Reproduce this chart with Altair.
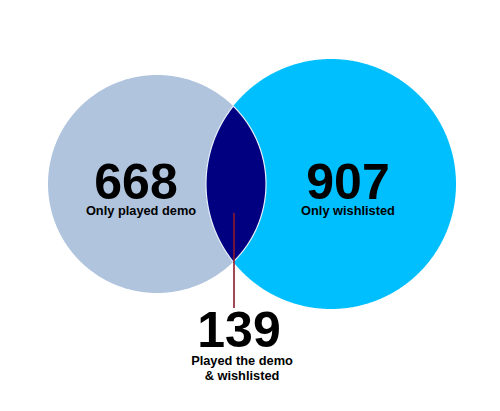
import numpy as np
import pandas as pd
import altair as alt

# ---- data ----
labels = ["Only played demo", "Only wishlisted", "Played the demo\n& wishlisted"]
counts = [668, 907, 139]

# ---- layout (image pixel coordinates) ----
W, H, M = 484, 395, 8
c1 = (157.0, 184.0, 109.0)   # left circle cx, cy, r
c2 = (331.0, 184.0, 125.0)   # right circle cx, cy, r
num_pos = [(136, 199), (348, 199), (239, 347)]
lab_pos = [(141, 215), (348, 215), (242, 364.5)]
leader = (234, 213, 308)

xs = alt.Scale(domain=[M, M + W], nice=False, zero=False)
ys = alt.Scale(domain=[M, M + H], nice=False, zero=False, reverse=True)


def circle_df(cx, cy, r, n=400):
    t = np.linspace(-np.pi / 2, np.pi / 2, n)
    return pd.DataFrame({"y": cy + r * np.sin(t),
                         "x": cx - r * np.cos(t),
                         "x2": cx + r * np.cos(t)})


def lens_df(a, b, n=400):
    (x1, y1, r1), (x2, y2, r2) = a, b
    d = x2 - x1
    xi = (d * d - r2 * r2 + r1 * r1) / (2 * d)
    hh = np.sqrt(r1 * r1 - xi * xi)
    t = np.linspace(-np.pi / 2, np.pi / 2, n)
    yy = y1 + hh * np.sin(t)
    dy = yy - y1
    left = x2 - np.sqrt(np.clip(r2 * r2 - dy * dy, 0, None))
    right = x1 + np.sqrt(np.clip(r1 * r1 - dy * dy, 0, None))
    return pd.DataFrame({"y": yy, "x": left, "x2": right})


def area(df, color, stroke=None):
    kw = dict(orient="horizontal", color=color, opacity=1)
    if stroke:
        kw.update(stroke=stroke, strokeWidth=1.2)
    return alt.Chart(df).mark_area(**kw).encode(
        y=alt.Y("y:Q", scale=ys, axis=None),
        x=alt.X("x:Q", scale=xs, axis=None, stack=None),
        x2="x2:Q",
    )


left = area(circle_df(*c1), "#B0C4DE")
right = area(circle_df(*c2), "#00BFFF")
lens = area(lens_df(c1, c2), "#000080", stroke="#E8EEF8")

rule_df = pd.DataFrame({"x": [leader[0]], "y": [leader[1]], "y2": [leader[2]]})
rule = alt.Chart(rule_df).mark_rule(color="#8B1A2A", strokeWidth=1.6).encode(
    x=alt.X("x:Q", scale=xs, axis=None),
    y=alt.Y("y:Q", scale=ys, axis=None),
    y2="y2:Q",
)

num_df = pd.DataFrame({"text": [str(c) for c in counts],
                       "x": [p[0] for p in num_pos], "y": [p[1] for p in num_pos]})
lab_df = pd.DataFrame({"text": labels,
                       "x": [p[0] for p in lab_pos], "y": [p[1] for p in lab_pos]})

nums = alt.Chart(num_df).mark_text(
    font="Liberation Sans", fontWeight="bold", fontSize=50,
    baseline="alphabetic", align="center", color="black"
).encode(x=alt.X("x:Q", scale=xs, axis=None), y=alt.Y("y:Q", scale=ys, axis=None), text="text:N")

labs = alt.Chart(lab_df).mark_text(
    font="Liberation Sans", fontWeight="bold", fontSize=12.8,
    baseline="alphabetic", align="center", color="black",
    lineBreak="\n", lineHeight=15.5
).encode(x=alt.X("x:Q", scale=xs, axis=None), y=alt.Y("y:Q", scale=ys, axis=None), text="text:N")

chart = alt.layer(left, right, lens, rule, nums, labs).properties(
    width=W, height=H, padding=0, autosize=alt.AutoSizeParams(type="none"),
    background="white"
).configure_view(stroke=None)

chart.save("out.html", embed_options={"renderer": "svg", "actions": False})
